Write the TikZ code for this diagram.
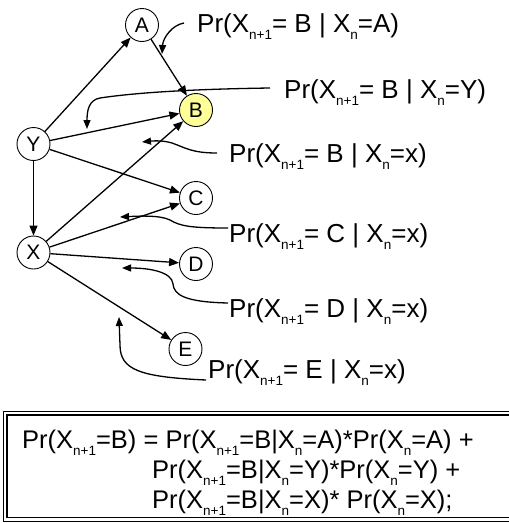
\documentclass[tikz,border=0pt]{standalone}
\usepackage{fontspec}
\setmainfont{Liberation Sans}
\usetikzlibrary{arrows.meta}
\newcommand\mysub[1]{\raisebox{-7pt}{\fontsize{13.5pt}{14pt}\selectfont #1}}
\definecolor{yel}{RGB}{255,255,153}
\tikzset{
  st/.style={circle,draw,line width=0.9pt,minimum size=33pt,inner sep=0pt,font=\fontsize{21pt}{22pt}\selectfont},
  edge/.style={line width=1.3pt,-{Triangle[length=10pt,width=8pt]}},
  ptr/.style={line width=1.3pt,-{Triangle[length=9pt,width=7pt]}},
  lbl/.style={anchor=base west,inner sep=0pt,font=\fontsize{26pt}{30pt}\selectfont},
  eq/.style={anchor=base west,inner sep=0pt,font=\fontsize{25.5pt}{30pt}\selectfont}
}
\begin{document}
\begin{tikzpicture}[x=1pt,y=-1pt]
\useasboundingbox (0,0) rectangle (509,523);
% state nodes
\node[st] (A) at (142,25) {A};
\node[st,fill=yel] (B) at (196,110) {B};
\node[st] (Y) at (33.5,144) {Y};
\node[st] (C) at (196,198) {C};
\node[st] (X) at (33.5,252.5) {X};
\node[st] (D) at (196,264) {D};
\node[st] (E) at (185.5,349) {E};
% edges
\draw[edge] (Y) -- (A);
\draw[edge] (A) -- (B);
\draw[edge] (Y) -- (B);
\draw[edge] (Y) -- (C);
\draw[edge] (Y) -- (X);
\draw[edge] (X) -- (B);
\draw[edge] (X) -- (C);
\draw[edge] (X) -- (D);
\draw[edge] (X) -- (E);
% labels
\node[lbl] (lA) at (197,32) {Pr(X\mysub{n+1}= B | X\mysub{n}=A)};
\node[lbl] (lY) at (284,98) {Pr(X\mysub{n+1}= B | X\mysub{n}=Y)};
\node[lbl] (lB) at (229,162) {Pr(X\mysub{n+1}= B | X\mysub{n}=x)};
\node[lbl] (lC) at (229,242) {Pr(X\mysub{n+1}= C | X\mysub{n}=x)};
\node[lbl] (lD) at (229,317) {Pr(X\mysub{n+1}= D | X\mysub{n}=x)};
\node[lbl] (lE) at (208,378) {Pr(X\mysub{n+1}= E | X\mysub{n}=x)};
% pointer start / tip coordinates
\coordinate (sA) at (184,23);  \coordinate (tA) at (162,54);
\coordinate (sY) at (270,88);  \coordinate (tY) at (87,129);
\coordinate (sB) at (217,153); \coordinate (tB) at (142,142);
\coordinate (sC) at (228,228); \coordinate (tC) at (120,217);
\coordinate (sD) at (228,303); \coordinate (tD) at (122,268);
\coordinate (sE) at (206,380); \coordinate (tE) at (119,317);
% pointers
\draw[ptr] (sA) .. controls (172,25) and (163,38) .. (tA);
\draw[ptr] (sY) .. controls (200,89) and (140,92) .. (100,98) .. controls (89,100) and (87,110) .. (tY);
\draw[ptr] (sB) .. controls (192,153) and (186,148) .. (172,143) .. controls (162,140) and (152,141) .. (tB);
\draw[ptr] (sC) .. controls (190,228) and (180,226) .. (170,220) .. controls (160,215) and (140,216) .. (tC);
\draw[ptr] (sD) .. controls (185,302) and (174,295) .. (173,284) .. controls (172,272) and (150,268) .. (tD);
\draw[ptr] (sE) .. controls (140,377) and (120,370) .. (120,345) -- (tE);
% formula box
\draw[line width=1pt] (3,411) rectangle (540,521.5);
\draw[line width=1.6pt] (7,415) rectangle (536,517.5);
\node[eq] (f1) at (22,448) {Pr(X\mysub{n+1}=B) = Pr(X\mysub{n+1}=B|X\mysub{n}=A)*Pr(X\mysub{n}=A) +};
\node[eq] (f2) at (152,478) {Pr(X\mysub{n+1}=B|X\mysub{n}=Y)*Pr(X\mysub{n}=Y) +};
\node[eq] (f3) at (152,508) {Pr(X\mysub{n+1}=B|X\mysub{n}=X)* Pr(X\mysub{n}=X);};
\end{tikzpicture}
\end{document}
